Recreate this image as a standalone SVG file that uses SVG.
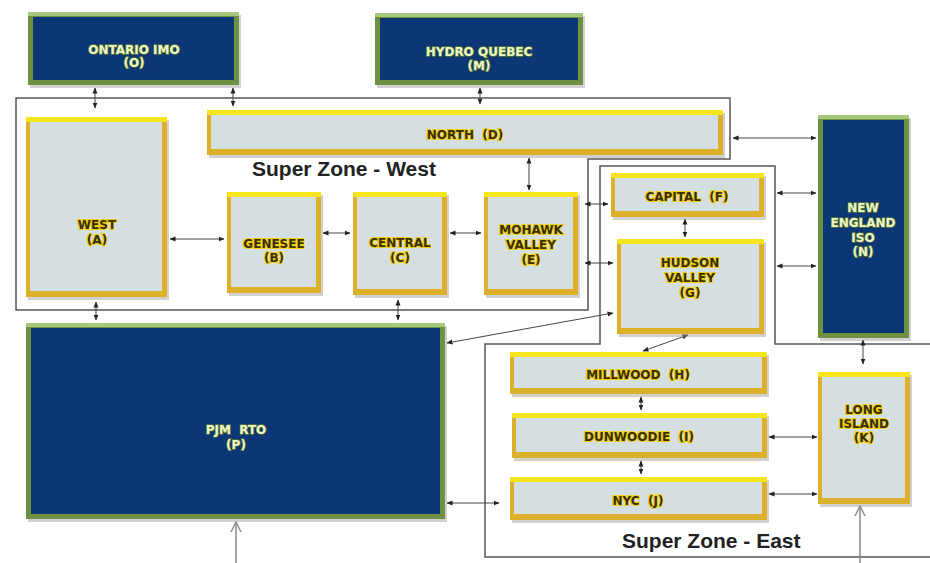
<svg xmlns="http://www.w3.org/2000/svg" width="930" height="563" viewBox="0 0 930 563">
<style>
.zone{fill:none;stroke:#555;stroke-width:1.5}
.sh{fill:#9a9a9a;opacity:.45}
.gold{fill:#dcb02a}
.ghl{fill:#f6e41c}
.gin{fill:#d5dfe2}
.grn{fill:#6f9040}
.bhl{fill:#a6c77c}
.bin{fill:#0c3675}
.gt{font-family:"DejaVu Sans",sans-serif;font-weight:bold;font-size:12px;fill:#3a2e00;stroke:#f0d000;stroke-width:2;paint-order:stroke;text-anchor:middle}
.bt{font-family:"DejaVu Sans",sans-serif;font-weight:bold;font-size:12px;fill:#eef6c8;stroke:#5a7a30;stroke-width:1.5;paint-order:stroke;text-anchor:middle}
.zt{font-family:"Liberation Sans",Arial,sans-serif;font-weight:bold;font-size:21px;fill:#222}
.c{fill:none;stroke:#444;stroke-width:1;marker-start:url(#a);marker-end:url(#a)}
.up{fill:none;stroke:#8a8a8a;stroke-width:1.5;marker-end:url(#o)}
</style>
<defs>
<marker id="a" viewBox="0 0 6 6" refX="5.5" refY="3" markerWidth="6" markerHeight="6" markerUnits="userSpaceOnUse" orient="auto-start-reverse"><path d="M0,0.5 L6,3 L0,5.5 Z" fill="#222"/></marker>
<marker id="o" viewBox="0 0 12 12" refX="11" refY="6" markerWidth="12" markerHeight="12" markerUnits="userSpaceOnUse" orient="auto"><path d="M1,1 L11,6 L1,11" fill="none" stroke="#8a8a8a" stroke-width="1.5"/></marker>
</defs>
<rect width="930" height="563" fill="#fff"/>

<g id="zones">
<polygon class="zone" points="16,98 730,98 730,159 588,159 588,310 16,310"/>
<polyline class="zone" points="930,344 775,344 775,166 600,166 600,344 485,344 485,557 930,557"/>
<text class="zt" x="252" y="176">Super Zone - West</text>
<text class="zt" x="622" y="548">Super Zone - East</text>
</g>

<g id="connectors">
<line class="c" x1="95" y1="88" x2="95" y2="108"/>
<line class="c" x1="233" y1="88" x2="233" y2="106"/>
<line class="c" x1="480" y1="88" x2="480" y2="104"/>
<line class="c" x1="529" y1="158" x2="529" y2="190"/>
<line class="c" x1="170" y1="239" x2="224" y2="239"/>
<line class="c" x1="323" y1="233" x2="350" y2="233"/>
<line class="c" x1="450" y1="233" x2="481" y2="233"/>
<line class="c" x1="585" y1="204" x2="608" y2="204"/>
<line class="c" x1="585" y1="263" x2="613" y2="263"/>
<line class="c" x1="613" y1="313" x2="447" y2="343"/>
<line class="c" x1="96" y1="302" x2="96" y2="320"/>
<line class="c" x1="398" y1="300" x2="398" y2="320"/>
<line class="c" x1="733" y1="138" x2="816" y2="138"/>
<line class="c" x1="777" y1="193" x2="816" y2="193"/>
<line class="c" x1="777" y1="266" x2="816" y2="266"/>
<line class="c" x1="685" y1="219" x2="685" y2="237"/>
<line class="c" x1="688" y1="335" x2="643" y2="351"/>
<line class="c" x1="863" y1="340" x2="863" y2="364"/>
<line class="c" x1="641" y1="397" x2="641" y2="410"/>
<line class="c" x1="641" y1="461" x2="641" y2="474"/>
<line class="c" x1="769" y1="437" x2="817" y2="437"/>
<line class="c" x1="769" y1="494" x2="817" y2="494"/>
<line class="c" x1="447" y1="503" x2="499" y2="503"/>
<line class="up" x1="236" y1="563" x2="236" y2="522"/>
<line class="up" x1="860" y1="563" x2="860" y2="506"/>
</g>

<g id="ontario">
<rect class="sh" x="30" y="15" width="211" height="73"/>
<rect class="grn" x="28" y="12" width="211" height="73"/>
<rect class="bhl" x="28" y="12" width="211" height="4"/>
<rect class="bin" x="33" y="17" width="201" height="63"/>
<text class="bt" x="134" y="54">ONTARIO IMO</text>
<text class="bt" x="134" y="67">(O)</text>
</g>

<g id="hydroquebec">
<rect class="sh" x="377" y="16" width="208" height="72"/>
<rect class="grn" x="375" y="13" width="208" height="72"/>
<rect class="bhl" x="375" y="13" width="208" height="4"/>
<rect class="bin" x="380" y="18" width="198" height="62"/>
<text class="bt" x="479" y="56">HYDRO QUEBEC</text>
<text class="bt" x="479" y="70">(M)</text>
</g>

<g id="north">
<rect class="sh" x="209" y="113" width="516" height="45"/>
<rect class="gold" x="207" y="110" width="516" height="45"/>
<rect class="ghl" x="207" y="110" width="516" height="5"/>
<rect class="gin" x="211" y="115" width="507" height="34"/>
<text class="gt" x="465" y="139" xml:space="preserve">NORTH  (D)</text>
</g>

<g id="west">
<rect class="sh" x="28" y="120" width="141" height="180"/>
<rect class="gold" x="26" y="117" width="141" height="180"/>
<rect class="ghl" x="26" y="117" width="141" height="5"/>
<rect class="gin" x="30" y="122" width="132" height="169"/>
<text class="gt" x="97" y="229">WEST</text>
<text class="gt" x="97" y="244">(A)</text>
</g>

<g id="genesee">
<rect class="sh" x="229" y="195" width="94" height="101"/>
<rect class="gold" x="227" y="192" width="94" height="101"/>
<rect class="ghl" x="227" y="192" width="94" height="5"/>
<rect class="gin" x="231" y="197" width="85" height="90"/>
<text class="gt" x="274" y="248">GENESEE</text>
<text class="gt" x="274" y="262">(B)</text>
</g>

<g id="central">
<rect class="sh" x="355" y="195" width="94" height="103"/>
<rect class="gold" x="353" y="192" width="94" height="103"/>
<rect class="ghl" x="353" y="192" width="94" height="5"/>
<rect class="gin" x="357" y="197" width="85" height="92"/>
<text class="gt" x="400" y="247">CENTRAL</text>
<text class="gt" x="400" y="262">(C)</text>
</g>

<g id="mohawk">
<rect class="sh" x="486" y="195" width="94" height="103"/>
<rect class="gold" x="484" y="192" width="94" height="103"/>
<rect class="ghl" x="484" y="192" width="94" height="5"/>
<rect class="gin" x="488" y="197" width="85" height="92"/>
<text class="gt" x="531" y="234">MOHAWK</text>
<text class="gt" x="531" y="249">VALLEY</text>
<text class="gt" x="531" y="264">(E)</text>
</g>

<g id="capital">
<rect class="sh" x="613" y="176" width="153" height="44"/>
<rect class="gold" x="611" y="173" width="153" height="44"/>
<rect class="ghl" x="611" y="173" width="153" height="5"/>
<rect class="gin" x="615" y="178" width="144" height="33"/>
<text class="gt" x="687" y="201" xml:space="preserve">CAPITAL  (F)</text>
</g>

<g id="hudson">
<rect class="sh" x="619" y="242" width="147" height="95"/>
<rect class="gold" x="617" y="239" width="147" height="95"/>
<rect class="ghl" x="617" y="239" width="147" height="5"/>
<rect class="gin" x="621" y="244" width="138" height="84"/>
<text class="gt" x="690" y="267">HUDSON</text>
<text class="gt" x="690" y="282">VALLEY</text>
<text class="gt" x="690" y="297">(G)</text>
</g>

<g id="newengland">
<rect class="sh" x="820" y="118" width="91" height="223"/>
<rect class="grn" x="818" y="115" width="91" height="223"/>
<rect class="bhl" x="818" y="115" width="91" height="4"/>
<rect class="bin" x="823" y="120" width="81" height="213"/>
<text class="bt" x="863" y="212">NEW</text>
<text class="bt" x="863" y="227">ENGLAND</text>
<text class="bt" x="863" y="242">ISO</text>
<text class="bt" x="863" y="256">(N)</text>
</g>

<g id="millwood">
<rect class="sh" x="512" y="355" width="257" height="42"/>
<rect class="gold" x="510" y="352" width="257" height="42"/>
<rect class="ghl" x="510" y="352" width="257" height="5"/>
<rect class="gin" x="514" y="357" width="248" height="31"/>
<text class="gt" x="638" y="379" xml:space="preserve">MILLWOOD  (H)</text>
</g>

<g id="dunwoodie">
<rect class="sh" x="514" y="416" width="255" height="45"/>
<rect class="gold" x="512" y="413" width="255" height="45"/>
<rect class="ghl" x="512" y="413" width="255" height="5"/>
<rect class="gin" x="516" y="418" width="246" height="34"/>
<text class="gt" x="639" y="441" xml:space="preserve">DUNWOODIE  (I)</text>
</g>

<g id="nyc">
<rect class="sh" x="512" y="480" width="257" height="43"/>
<rect class="gold" x="510" y="477" width="257" height="43"/>
<rect class="ghl" x="510" y="477" width="257" height="5"/>
<rect class="gin" x="514" y="482" width="248" height="32"/>
<text class="gt" x="638" y="505" xml:space="preserve">NYC  (J)</text>
</g>

<g id="longisland">
<rect class="sh" x="820" y="375" width="92" height="132"/>
<rect class="gold" x="818" y="372" width="92" height="132"/>
<rect class="ghl" x="818" y="372" width="92" height="5"/>
<rect class="gin" x="822" y="377" width="83" height="121"/>
<text class="gt" x="864" y="414">LONG</text>
<text class="gt" x="864" y="428">ISLAND</text>
<text class="gt" x="864" y="442">(K)</text>
</g>

<g id="pjm">
<rect class="sh" x="28" y="326" width="419" height="196"/>
<rect class="grn" x="26" y="323" width="419" height="196"/>
<rect class="bhl" x="26" y="323" width="419" height="4"/>
<rect class="bin" x="31" y="328" width="409" height="186"/>
<text class="bt" x="236" y="434" xml:space="preserve">PJM  RTO</text>
<text class="bt" x="236" y="449">(P)</text>
</g>
</svg>
